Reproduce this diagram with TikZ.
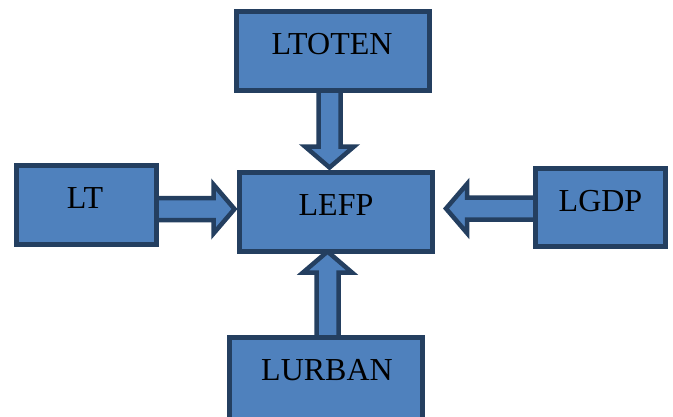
\documentclass[tikz,border=0pt]{standalone}
\usepackage{fontspec}
\setmainfont{Liberation Serif}
\usetikzlibrary{calc,backgrounds}

\definecolor{face}{HTML}{4F81BD}
\definecolor{edge}{HTML}{243F60}

% block arrow geometry (shaft half width, head half width, head length)
\def\arrS{11}
\def\arrH{24.5}
\def\arrL{21}

\tikzset{
  box/.style={rectangle, draw=edge, fill=face, line width=4.5pt,
    outer sep=0pt, inner sep=0pt},
  lbl/.style={anchor=base, inner sep=0pt, font=\fontsize{32}{36}\selectfont},
  barrow/.style={draw=edge, fill=face, line width=4.5pt, line join=miter,
    to path={
      let \p1=(\tikztostart), \p2=(\tikztotarget),
          \n1={veclen(\x2-\x1,\y2-\y1)},
          \n2={(\x2-\x1)/\n1}, \n3={(\y2-\y1)/\n1}
      in (\x1-\arrS*\n3, \y1+\arrS*\n2)
      -- (\x2-\arrL*\n2-\arrS*\n3, \y2-\arrL*\n3+\arrS*\n2)
      -- (\x2-\arrL*\n2-\arrH*\n3, \y2-\arrL*\n3+\arrH*\n2)
      -- (\x2,\y2)
      -- (\x2-\arrL*\n2+\arrH*\n3, \y2-\arrL*\n3-\arrH*\n2)
      -- (\x2-\arrL*\n2+\arrS*\n3, \y2-\arrL*\n3-\arrS*\n2)
      -- (\x1+\arrS*\n3, \y1-\arrS*\n2) -- cycle}}
}

\begin{document}
\begin{tikzpicture}[x=1pt,y=-1pt]
  \useasboundingbox (0,0) rectangle (673,416);
  \clip (0,0) rectangle (673,416);

  % boxes
  \node[box, minimum width=193, minimum height=79] (ltoten) at (333,51) {};
  \node[box, minimum width=140, minimum height=79] (lt) at (86.5,205) {};
  \node[box, minimum width=193, minimum height=79] (lefp) at (336,212) {};
  \node[box, minimum width=130, minimum height=78] (lgdp) at (600.5,207.5) {};
  \node[box, minimum width=193, minimum height=82] (lurban) at (326,378.5) {};

  % labels
  \node[lbl] (tltoten) at (332,54) {LTOTEN};
  \node[lbl] (tlt) at (85,208.5) {LT};
  \node[lbl] (tlefp) at (336,215) {LEFP};
  \node[lbl] (tlgdp) at (600.5,211.5) {LGDP};
  \node[lbl] (tlurban) at (327,380) {LURBAN};

  % arrow axes
  \coordinate (colT) at (329.5,0);
  \coordinate (colB) at (327.5,0);
  \coordinate (rowL) at (0,209);
  \coordinate (rowR) at (0,208.5);

  % block arrows, behind the boxes
  \begin{pgfonlayer}{background}
    \draw[barrow] (ltoten.center -| colT) to ($(lefp.north -| colT)+(0,-5)$);
    \draw[barrow] (lt.center |- rowL) to ($(lefp.west |- rowL)+(-5,0)$);
    \draw[barrow] (lgdp.center |- rowR) to ($(lefp.east |- rowR)+(13.5,0)$);
    \draw[barrow] (lurban.center -| colB) to ($(lefp.south -| colB)+(0,0)$);
  \end{pgfonlayer}
\end{tikzpicture}
\end{document}
